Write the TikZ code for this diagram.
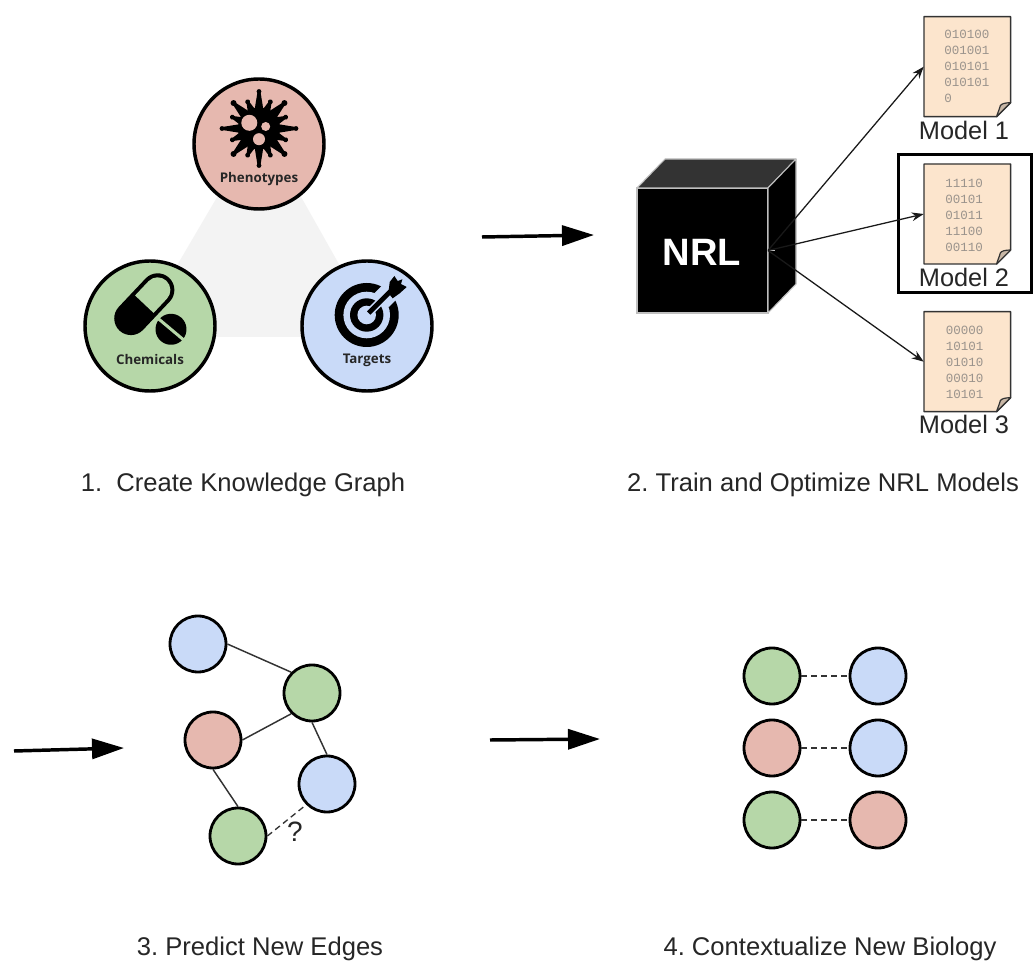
\documentclass[tikz,border=0pt]{standalone}
\usepackage{fontspec}
\setmainfont{Liberation Sans}
\newfontfamily\iconfont{Open Sans}
\newfontfamily\binfont{Liberation Mono}
\usetikzlibrary{arrows.meta}
\definecolor{pinkc}{HTML}{E6B8AF}
\definecolor{greenc}{HTML}{B6D7A8}
\definecolor{bluec}{HTML}{C9DAF8}
\definecolor{greyc}{HTML}{F3F3F3}
\definecolor{peachc}{HTML}{FCE5CD}
\definecolor{flapc}{HTML}{C8B7A6}
\definecolor{binc}{HTML}{9A938C}
\tikzset{
  x=0.75pt,y=-0.75pt,
  bigcirc/.style={circle,draw=black,line width=2.6pt,minimum size=97.5pt,inner sep=0pt},
  smallcirc/.style={circle,draw=black,line width=2.1pt,minimum size=42pt,inner sep=0pt},
  iconlabel/.style={font=\iconfont\bfseries\fontsize{10}{11}\selectfont,text=black!85,inner sep=0pt},
  caption/.style={font=\frenchspacing\fontsize{19.2}{22}\selectfont,text=black!85,inner sep=0pt},
  modellabel/.style={font=\fontsize{19}{21}\selectfont,text=black!85,inner sep=0pt},
  binary/.style={font=\binfont\fontsize{9.4}{12}\selectfont,text=binc,inner sep=0pt,align=left,anchor=north west},
  docbox/.style={rectangle,minimum width=65pt,minimum height=75pt,inner sep=0pt},
  edgeline/.style={line width=1.1pt,draw=black!80},
  dashline/.style={line width=1pt,draw=black!80,dash pattern=on 4.5pt off 3pt},
  bigarrow/.style={line width=2.6pt,-{Triangle[length=24pt,width=15pt]}},
  thinarrow/.style={line width=0.95pt,draw=black!90,-{Stealth[length=9pt,width=6.5pt]}},
}
\newcommand{\paperdoc}[2]{%
  \node[docbox] (#1) at (967.3,#2) {};
  \begin{scope}[shift={(967.3,#2)}]
    \draw[fill=peachc,draw=black!80,line width=1.1pt,line join=round]
      (-43.3,-50) -- (43.3,-50) -- (43.3,36) -- (29.3,50) -- (-43.3,50) -- cycle;
    \draw[fill=flapc,draw=black!80,line width=0.9pt,line join=round]
      (43.3,36) .. controls (38,36) and (34,37) .. (33,39) .. controls (32,43) and (30,47) .. (29.3,50) -- cycle;
  \end{scope}}
\begin{document}
\begin{tikzpicture}
\useasboundingbox (0,0) rectangle (1033,962);
\fill[white] (0,0) rectangle (1033,962);

% panel 1
\fill[greyc] (260,124) -- (135,337) -- (380,337) -- cycle;
\node[bigcirc,fill=pinkc] (pheno) at (259,144) {};
\node[bigcirc,fill=greenc] (chem) at (150,326) {};
\node[bigcirc,fill=bluec] (targ) at (367,326) {};
\node[iconlabel] (phenol) at (259,179) {Phenotypes};
\node[iconlabel] (chemb) at (150,360) {Chemicals};
\node[iconlabel] (targl) at (367,360) {Targets};

% virus
\begin{scope}[shift={(259,128.5)}]
  \fill[black] (0,0) circle (21);
  \foreach \a in {0,90,180,270}{
    \begin{scope}[rotate=\a]
      \fill[black] (15,-5) -- (36,-1.6) -- (36,1.6) -- (15,5) -- cycle;
      \fill[black] (37,0) circle (2.4);
    \end{scope}}
  \foreach \a in {45,135,225,315}{
    \begin{scope}[rotate=\a]
      \fill[black] (15,-6) -- (34,-1.8) -- (34,1.8) -- (15,6) -- cycle;
      \fill[black] (36,0) circle (3);
    \end{scope}}
  \foreach \a in {23,67,113,157,203,247,293,337}{
    \begin{scope}[rotate=\a]
      \fill[black] (15,-5) -- (28,-1.6) -- (28,1.6) -- (15,5) -- cycle;
      \fill[black] (29,0) circle (2.4);
    \end{scope}}
  \fill[pinkc] (-9.7,-5.7) circle (8);
  \fill[pinkc] (6.7,-2) circle (4.5);
  \fill[pinkc] (0,10.7) circle (6);
\end{scope}

% pill
\begin{scope}[shift={(144.3,304.2)},rotate=46.7]
  \fill[black] (-19.5,-16.7) -- (19.5,-16.7) arc[start angle=-90,end angle=90,radius=16.7] -- (-19.5,16.7) arc[start angle=90,end angle=270,radius=16.7] -- cycle;
  \fill[greenc] (0,-12.7) -- (19.5,-12.7) arc[start angle=-90,end angle=90,radius=12.7] -- (0,12.7) -- cycle;
\end{scope}
\begin{scope}[shift={(171,329.3)},rotate=-40]
  \fill[black] (0,0) circle (15.5);
  \fill[greenc] (-18,-1.5) rectangle (18,1.5);
\end{scope}

% target
\begin{scope}[shift={(366.7,315)}]
  \fill[black] (0,0) circle (32);
  \fill[bluec] (0,0) circle (23.3);
  \fill[black] (0,0) circle (16.7);
  \fill[bluec] (0,0) circle (9.3);
  \draw[bluec,line width=6pt] (0,0) -- (20,-20);
  \draw[bluec,line width=15pt] (15,-15) -- (28,-28);
  \draw[black,line width=3.6pt] (2,-2) -- (28,-28);
  \fill[black] (21.7,-21.7) -- (23,-33) -- (27.7,-39) -- (31,-34) -- (35.7,-35.7) -- (34.3,-31) -- (40,-28) -- (33,-21.7) -- (26,-16.7) -- cycle;
\end{scope}

% panel 2
\node[rectangle,minimum width=98.25pt,minimum height=93.75pt,inner sep=0pt,fill=black,draw=black!25,line width=0.8pt] (cube) at (702.5,250.5) {};
\fill[black!80,draw=black!25,line width=0.8pt,line join=round] (637,188) -- (665,159) -- (796,159) -- (768,188) -- cycle;
\fill[black,draw=black!25,line width=0.8pt,line join=round] (768,188) -- (796,159) -- (796,284) -- (768,313) -- cycle;
\node[font=\bfseries\fontsize{28.6}{30}\selectfont,text=white,inner sep=0pt] (nrl) at (702,252) {NRL};

\paperdoc{doc1}{66.7}
\paperdoc{doc2}{214}
\paperdoc{doc3}{361.7}
\node[binary] (bin1) at (944,30) {010100\\001001\\010101\\010101\\0};
\node[binary] (bin2) at (945,178.5) {11110\\00101\\01011\\11100\\00110};
\node[binary] (bin3) at (945.5,325.5) {00000\\10101\\01010\\00010\\10101};
\node[modellabel] (m1) at (964,130) {Model 1};
\node[modellabel] (m2) at (964,277) {Model 2};
\node[modellabel] (m3) at (964,424) {Model 3};
\node[rectangle,draw=black,line width=2.2pt,minimum width=100pt,minimum height=104pt,inner sep=0pt] (selbox) at (965,223.5) {};

\coordinate (cubeout) at (768,250.5);
\draw[black!25,line width=0.8pt] (cubeout) -- (775,250.5);
\draw[thinarrow] (cubeout) -- (doc1.west);
\draw[thinarrow] (cubeout) -- (doc2.west);
\draw[thinarrow] (cubeout) -- (doc3.west);

% panel 3
\node[smallcirc,fill=bluec] (a) at (198,644) {};
\node[smallcirc,fill=greenc] (b) at (312,693) {};
\node[smallcirc,fill=pinkc] (c) at (213,740) {};
\node[smallcirc,fill=bluec] (d) at (327,784) {};
\node[smallcirc,fill=greenc] (e) at (238,836) {};
\draw[edgeline] (a.east) -- (b.north west);
\draw[edgeline] (c.east) -- (b.south west);
\draw[edgeline] (b.south) -- (d.north);
\draw[edgeline] (c.south) -- (e.north);
\draw[dashline] (e.east) -- (d.south west);
\node[font=\fontsize{21}{23}\selectfont,text=black!85,inner sep=0pt] (q) at (295,832) {?};

% panel 4
\node[smallcirc,fill=greenc] (g1) at (772,676) {};
\node[smallcirc,fill=bluec] (h1) at (878,676) {};
\node[smallcirc,fill=pinkc] (g2) at (772,748) {};
\node[smallcirc,fill=bluec] (h2) at (878,748) {};
\node[smallcirc,fill=greenc] (g3) at (772,820) {};
\node[smallcirc,fill=pinkc] (h3) at (878,820) {};
\draw[dashline] (g1) -- (h1);
\draw[dashline] (g2) -- (h2);
\draw[dashline] (g3) -- (h3);

% big arrows
\coordinate (a1s) at (482,237); \coordinate (a1e) at (594,235);
\coordinate (a2s) at (14,751); \coordinate (a2e) at (124,748);
\coordinate (a3s) at (490,740); \coordinate (a3e) at (600,739);
\draw[bigarrow] (a1s) -- (a1e);
\draw[bigarrow] (a2s) -- (a2e);
\draw[bigarrow] (a3s) -- (a3e);

% captions
\node[caption] (cap1) at (243,485) {1.\ \ Create Knowledge Graph};
\node[caption] (cap2) at (823,485) {2. Train and Optimize NRL Models};
\node[caption] (cap3) at (260,949) {3. Predict New Edges};
\node[caption] (cap4) at (830,949) {4. Contextualize New Biology};
\end{tikzpicture}
\end{document}
